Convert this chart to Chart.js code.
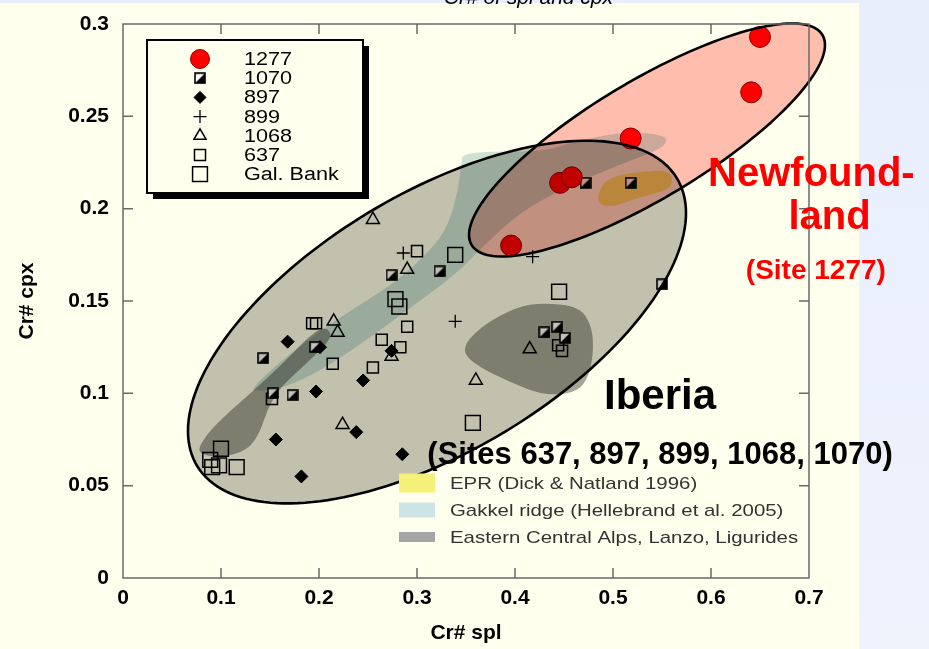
<!DOCTYPE html>
<html>
<head>
<meta charset="utf-8">
<script src="https://cdn.jsdelivr.net/npm/chart.js@4.4.1/dist/chart.umd.min.js"></script>
<style>
    html, body { margin: 0; padding: 0; }
    body { width: 929px; height: 649px; overflow: hidden; background: linear-gradient(#E8EEFC, #EEF3FC); }
    canvas { display: block; }
</style>
</head>
<body>
<canvas id="myChart" width="929" height="649"></canvas>
<script>
// DADOS (Cr# spl x Cr# cpx)

var xTicks = [0, 0.1, 0.2, 0.3, 0.4, 0.5, 0.6, 0.7];
var yTicks = [0, 0.05, 0.1, 0.15, 0.2, 0.25, 0.3];

var site1277X = [0.650, 0.641, 0.518, 0.446, 0.458, 0.396];
var site1277Y = [0.293, 0.263, 0.238, 0.214, 0.217, 0.180];

var site1070X = [0.472, 0.518, 0.274, 0.323, 0.550, 0.430, 0.443, 0.451, 0.196, 0.143, 0.153, 0.173];
var site1070Y = [0.214, 0.214, 0.164, 0.166, 0.159, 0.133, 0.136, 0.130, 0.125, 0.119, 0.100, 0.099];

var site897X = [0.168, 0.201, 0.274, 0.245, 0.197, 0.238, 0.156, 0.285, 0.182];
var site897Y = [0.128, 0.125, 0.123, 0.107, 0.101, 0.079, 0.075, 0.067, 0.055];

var site899X = [0.286, 0.418, 0.339];
var site899Y = [0.176, 0.174, 0.139];

var site1068X = [0.255, 0.290, 0.215, 0.219, 0.274, 0.224, 0.360, 0.415];
var site1068Y = [0.194, 0.167, 0.139, 0.133, 0.120, 0.083, 0.107, 0.124];

var site637X = [0.300, 0.290, 0.193, 0.197, 0.264, 0.283, 0.214, 0.255, 0.152, 0.444, 0.448];
var site637Y = [0.177, 0.136, 0.138, 0.138, 0.129, 0.125, 0.116, 0.114, 0.097, 0.126, 0.123];

var galBankX = [0.339, 0.445, 0.357, 0.278, 0.282, 0.100, 0.089, 0.091, 0.098, 0.116];
var galBankY = [0.175, 0.155, 0.084, 0.151, 0.147, 0.070, 0.064, 0.060, 0.061, 0.060];

// campos de referencia
var eprX = [0.484, 0.490, 0.504, 0.528, 0.558, 0.561, 0.555, 0.520, 0.500, 0.487];
var eprY = [0.206, 0.214, 0.218, 0.220, 0.221, 0.214, 0.210, 0.205, 0.201, 0.202];

var gakkelX = [0.132, 0.160, 0.201, 0.245, 0.280, 0.315, 0.332, 0.342, 0.345, 0.347, 0.431, 0.451, 0.512, 0.550, 0.556, 0.548, 0.502, 0.446, 0.405, 0.366, 0.341, 0.290, 0.249, 0.204, 0.165, 0.135];
var gakkelY = [0.103, 0.117, 0.134, 0.149, 0.161, 0.178, 0.191, 0.210, 0.224, 0.231, 0.231, 0.235, 0.242, 0.240, 0.237, 0.232, 0.223, 0.210, 0.198, 0.179, 0.165, 0.145, 0.129, 0.113, 0.103, 0.101];

var alpesAX = [0.077, 0.092, 0.134, 0.163, 0.194, 0.208, 0.214, 0.187, 0.160, 0.147, 0.140, 0.127, 0.099, 0.079];
var alpesAY = [0.071, 0.082, 0.102, 0.116, 0.133, 0.136, 0.130, 0.116, 0.103, 0.091, 0.079, 0.069, 0.065, 0.067];

var alpesBX = [0.344, 0.364, 0.402, 0.429, 0.466, 0.479, 0.480, 0.473, 0.459, 0.429, 0.395, 0.364];
var alpesBY = [0.123, 0.136, 0.147, 0.149, 0.147, 0.136, 0.120, 0.106, 0.100, 0.099, 0.106, 0.114];

// elipses: centro + eixos conjugados (unidades dos dados)
var elipseIberia = { cx: 0.3204, cy: 0.1386, ux: 0.2541, uy: 0.0590, vy: 0.0785 };
var elipseNewf = { cx: 0.5347, cy: 0.2372, ux: 0.1816, uy: 0.0514, vy: 0.0366 };

var legendaCampos = ['EPR (Dick & Natland 1996)', 'Gakkel ridge (Hellebrand et al. 2005)', 'Eastern Central Alps, Lanzo, Ligurides'];

// ----------------------------------------------------------------

var FIGFONT = '"Liberation Sans", Arial, sans-serif';
var ESTICA = 1.2;

function pares(xs, ys) {
    return xs.map(function(x, i) { return { x: x, y: ys[i] }; });
}

function meioQuadrado(lado) {
    var c = document.createElement('canvas');
    c.width = lado; c.height = lado;
    var g = c.getContext('2d');
    g.fillStyle = '#fff';
    g.fillRect(1, 1, lado - 2, lado - 2);
    g.fillStyle = '#000';
    g.beginPath();
    g.moveTo(lado - 1, 1);
    g.lineTo(lado - 1, lado - 1);
    g.lineTo(1, lado - 1);
    g.closePath();
    g.fill();
    g.strokeStyle = '#000';
    g.lineWidth = 1.6;
    g.strokeRect(1, 1, lado - 2, lado - 2);
    return c;
}

var simbolo1070 = meioQuadrado(12);

function px(chart, x, y) {
    return [chart.scales.x.getPixelForValue(x), chart.scales.y.getPixelForValue(y)];
}

function regiao(ctx, chart, xs, ys, cor) {
    var pts = xs.map(function(x, i) { return px(chart, x, ys[i]); });
    var n = pts.length;
    var m0 = [(pts[n - 1][0] + pts[0][0]) / 2, (pts[n - 1][1] + pts[0][1]) / 2];
    ctx.beginPath();
    ctx.moveTo(m0[0], m0[1]);
    for (var i = 0; i < n; i++) {
        var p = pts[i], q = pts[(i + 1) % n];
        ctx.quadraticCurveTo(p[0], p[1], (p[0] + q[0]) / 2, (p[1] + q[1]) / 2);
    }
    ctx.closePath();
    ctx.fillStyle = cor;
    ctx.fill();
}

function caminhoElipse(ctx, chart, e) {
    ctx.beginPath();
    for (var k = 0; k <= 180; k++) {
        var t = k / 180 * 2 * Math.PI;
        var p = px(chart, e.cx + e.ux * Math.cos(t), e.cy + e.uy * Math.cos(t) + e.vy * Math.sin(t));
        if (k == 0) ctx.moveTo(p[0], p[1]); else ctx.lineTo(p[0], p[1]);
    }
    ctx.closePath();
}

function textoLargo(ctx, txt, x, y, esc) {
    ctx.save();
    ctx.translate(x, y);
    ctx.scale(esc, 1);
    ctx.fillText(txt, 0, 0);
    ctx.restore();
}

var fundo = {
    id: 'fundo',
    beforeDraw: function(chart) {
        var ctx = chart.ctx;
        ctx.save();
        ctx.fillStyle = '#FFFFEE';
        ctx.fillRect(0, 3, 859, 646);
        ctx.restore();
    },
    beforeDatasetsDraw: function(chart) {
        var ctx = chart.ctx;
        ctx.save();
        ctx.globalCompositeOperation = 'multiply';
        regiao(ctx, chart, gakkelX, gakkelY, 'rgb(204,226,229)');
        regiao(ctx, chart, alpesAX, alpesAY, 'rgb(166,166,162)');
        regiao(ctx, chart, alpesBX, alpesBY, 'rgb(166,166,162)');
        regiao(ctx, chart, eprX, eprY, 'rgb(245,238,120)');
        ctx.restore();
    }
};

var enfeites = {
    id: 'enfeites',
    afterDatasetsDraw: function(chart) {
        var ctx = chart.ctx;
        var ca = chart.chartArea;
        var sx = chart.scales.x, sy = chart.scales.y;

        // elipses
        ctx.save();
        ctx.globalCompositeOperation = 'multiply';
        caminhoElipse(ctx, chart, elipseIberia);
        ctx.fillStyle = 'rgb(193,193,186)';
        ctx.fill();
        caminhoElipse(ctx, chart, elipseNewf);
        ctx.fillStyle = 'rgb(255,190,186)';
        ctx.fill();
        ctx.restore();

        ctx.save();
        ctx.strokeStyle = '#000';
        ctx.lineWidth = 2.6;
        caminhoElipse(ctx, chart, elipseIberia);
        ctx.stroke();
        caminhoElipse(ctx, chart, elipseNewf);
        ctx.stroke();
        ctx.restore();

        // moldura com ticks para dentro
        ctx.save();
        ctx.strokeStyle = '#6a6a6a';
        ctx.lineWidth = 1.5;
        ctx.strokeRect(ca.left, ca.top, ca.right - ca.left, ca.bottom - ca.top);
        ctx.beginPath();
        xTicks.slice(1, -1).forEach(function(v) {
            var x = sx.getPixelForValue(v);
            ctx.moveTo(x, ca.top); ctx.lineTo(x, ca.top + 10);
            ctx.moveTo(x, ca.bottom); ctx.lineTo(x, ca.bottom - 10);
        });
        yTicks.slice(1, -1).forEach(function(v) {
            var y = sy.getPixelForValue(v);
            ctx.moveTo(ca.left, y); ctx.lineTo(ca.left + 10, y);
            ctx.moveTo(ca.right, y); ctx.lineTo(ca.right - 10, y);
        });
        ctx.stroke();
        ctx.restore();

        // legenda das amostras
        var bx = ca.left + 24, by = ca.top + 16, bw = 216, bh = 153;
        ctx.save();
        ctx.fillStyle = '#000';
        ctx.fillRect(bx + 6, by + 6, bw, bh);
        ctx.fillStyle = '#FFFFEE';
        ctx.fillRect(bx, by, bw, bh);
        ctx.strokeStyle = '#000';
        ctx.lineWidth = 2;
        ctx.strokeRect(bx, by, bw, bh);
        ctx.font = '18px ' + FIGFONT;
        ctx.textBaseline = 'middle';
        chart.data.datasets.forEach(function(ds, i) {
            var y = by + 19 + i * 19.2;
            ctx.fillStyle = ds.backgroundColor;
            ctx.strokeStyle = ds.borderColor;
            ctx.lineWidth = ds.borderWidth;
            var r = ds.legendRadius;
            Chart.helpers.drawPoint(ctx, { pointStyle: ds.pointStyle, radius: r, rotation: 0, borderWidth: ds.borderWidth }, bx + 53, y);
            ctx.fillStyle = '#000';
            textoLargo(ctx, ds.label, bx + 97, y + 1, ESTICA);
        });
        ctx.restore();

        // legenda dos campos
        ctx.save();
        var cores = ['rgb(245,240,122)', 'rgb(205,228,231)', 'rgb(165,165,165)'];
        var alturas = [19, 15, 10];
        ctx.font = '17px ' + FIGFONT;
        ctx.textBaseline = 'middle';
        legendaCampos.forEach(function(t, i) {
            var y = 483 + i * 27;
            ctx.fillStyle = cores[i];
            ctx.fillRect(399, y - alturas[i] / 2, 36, alturas[i]);
            ctx.fillStyle = '#333';
            textoLargo(ctx, t, 450, y + 1, ESTICA);
        });
        ctx.restore();

        // rotulos
        ctx.save();
        ctx.textBaseline = 'middle';
        ctx.fillStyle = '#FF0000';
        ctx.font = 'bold 40px ' + FIGFONT;
        ctx.textAlign = 'left';
        var p = px(chart, 0.597, 0.218);
        ctx.fillText('Newfound-', p[0], p[1]);
        ctx.textAlign = 'center';
        p = px(chart, 0.721, 0.195);
        ctx.fillText('land', p[0], p[1]);
        ctx.font = 'bold 28px ' + FIGFONT;
        p = px(chart, 0.707, 0.166);
        ctx.fillText('(Site 1277)', p[0], p[1]);
        ctx.fillStyle = '#000';
        ctx.font = 'bold 42px ' + FIGFONT;
        p = px(chart, 0.548, 0.098);
        ctx.fillText('Iberia', p[0], p[1]);
        ctx.font = 'bold 31px ' + FIGFONT;
        p = px(chart, 0.548, 0.0666);
        ctx.fillText('(Sites 637, 897, 899, 1068, 1070)', p[0], p[1]);
        ctx.restore();
    },
    afterDraw: function(chart) {
        var ctx = chart.ctx;
        ctx.save();
        ctx.fillStyle = '#000';
        ctx.font = 'italic 21px ' + FIGFONT;
        ctx.textAlign = 'right';
        ctx.textBaseline = 'alphabetic';
        ctx.fillText('Cr# of spl and cpx', 613, 4);
        ctx.restore();
    }
};

function montarGrafico() {
    var ctx = document.getElementById('myChart').getContext('2d');
    var tickFontX = { family: FIGFONT, size: 21, weight: 'bold' };
    var tickFontY = { family: FIGFONT, size: 21, weight: 'bold', lineHeight: 0.9 };
    var titleFont = { family: FIGFONT, size: 21, weight: 'bold' };
    return new Chart(ctx, {
        type: 'scatter',
        data: {
            datasets: [{
                label: '1277',
                data: pares(site1277X, site1277Y),
                pointStyle: 'circle',
                pointRadius: 10.5,
                legendRadius: 9.5,
                backgroundColor: '#FF0000',
                borderColor: '#880000',
                borderWidth: 1
            }, {
                label: '1070',
                data: pares(site1070X, site1070Y),
                pointStyle: simbolo1070,
                pointRadius: 6,
                legendRadius: 6,
                backgroundColor: '#000',
                borderColor: '#000',
                borderWidth: 1
            }, {
                label: '897',
                data: pares(site897X, site897Y),
                pointStyle: 'rectRot',
                pointRadius: 6.5,
                legendRadius: 6,
                backgroundColor: '#000',
                borderColor: '#000',
                borderWidth: 1
            }, {
                label: '899',
                data: pares(site899X, site899Y),
                pointStyle: 'cross',
                pointRadius: 6.5,
                legendRadius: 6.5,
                backgroundColor: '#000',
                borderColor: '#000',
                borderWidth: 1.3
            }, {
                label: '1068',
                data: pares(site1068X, site1068Y),
                pointStyle: 'triangle',
                pointRadius: 7.5,
                legendRadius: 7,
                backgroundColor: 'rgba(0,0,0,0)',
                borderColor: '#000',
                borderWidth: 1.5
            }, {
                label: '637',
                data: pares(site637X, site637Y),
                pointStyle: 'rect',
                pointRadius: 7.8,
                legendRadius: 7.8,
                backgroundColor: 'rgba(0,0,0,0)',
                borderColor: '#000',
                borderWidth: 1.5
            }, {
                label: 'Gal. Bank',
                data: pares(galBankX, galBankY),
                pointStyle: 'rect',
                pointRadius: 10.5,
                legendRadius: 10.5,
                backgroundColor: 'rgba(0,0,0,0)',
                borderColor: '#000',
                borderWidth: 1.5
            }]
        },
        options: {
            responsive: false,
            animation: false,
            events: [],
            layout: { padding: { left: 0, top: 24, right: 120, bottom: 0 } },
            scales: {
                x: {
                    type: 'linear',
                    min: 0,
                    max: 0.7,
                    afterFit: function(s) { s.height = 71; },
                    afterBuildTicks: function(s) { s.ticks = xTicks.map(function(v) { return { value: v }; }); },
                    grid: { display: false, drawTicks: false, tickLength: 0 },
                    border: { display: false },
                    ticks: {
                        color: '#000',
                        padding: 8,
                        font: tickFontX,
                        callback: function(v) { return String(+v.toFixed(2)); }
                    },
                    title: { display: true, text: 'Cr# spl', color: '#000', font: titleFont, padding: { top: 0, bottom: 3 } }
                },
                y: {
                    type: 'linear',
                    min: 0,
                    max: 0.3,
                    afterFit: function(s) { s.width = 123; },
                    afterBuildTicks: function(s) { s.ticks = yTicks.map(function(v) { return { value: v }; }); },
                    grid: { display: false, drawTicks: false, tickLength: 0 },
                    border: { display: false },
                    ticks: {
                        color: '#000',
                        padding: 14,
                        font: tickFontY,
                        callback: function(v) { return String(+v.toFixed(2)); }
                    },
                    title: { display: true, text: 'Cr# cpx', color: '#000', font: titleFont, padding: { top: 15, bottom: 0 } }
                }
            },
            plugins: {
                legend: { display: false },
                tooltip: { enabled: false }
            }
        },
        plugins: [fundo, enfeites]
    });
}

var myChart = montarGrafico();
</script>
</body>
</html>
